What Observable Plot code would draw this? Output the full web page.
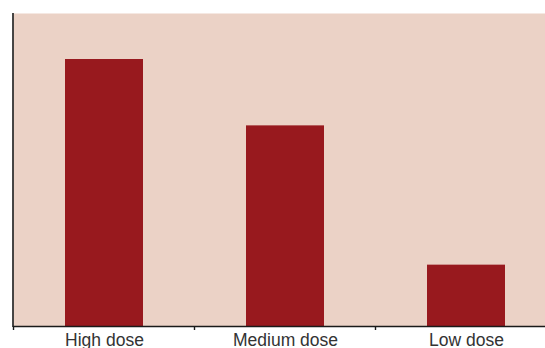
<!DOCTYPE html>
<html>
<head>
<meta charset="utf-8">
<script src="https://cdn.jsdelivr.net/npm/d3@7"></script>
<script src="https://cdn.jsdelivr.net/npm/@observablehq/plot@0.6"></script>
<style>
  html, body { margin: 0; padding: 0; background: #fff; }
  #chart svg { overflow: hidden; display: block; }
</style>
</head>
<body>
<div id="chart"></div>
<script>
const categories = ["High dose", "Medium dose", "Low dose"];
const values = [85.3, 64.1, 19.6];
const yMax = 100;

const data = categories.map((c, i) => ({category: c, value: values[i]}));

const W = 545, H = 348;
const mL = 13, mT = 13, mB = 22;
const step = 181.5;

// Axis lines + boundary ticks drawn from the scales
function axes(index, scales, vals, dims) {
  const g = d3.create("svg:g").attr("stroke", "#1a1a1a");
  const y0 = scales.y(0);
  g.append("line").attr("x1", dims.marginLeft).attr("x2", dims.marginLeft)
    .attr("y1", dims.marginTop).attr("y2", y0 + 1).attr("stroke-width", 1.6);
  g.append("line").attr("x1", dims.marginLeft).attr("x2", dims.width)
    .attr("y1", y0 + 0.5).attr("y2", y0 + 0.5).attr("stroke-width", 1.6);
  const bw = scales.x.bandwidth(), st = scales.x.step();
  for (const c of categories) {
    const xb = scales.x(c) + bw / 2 - st / 2;
    g.append("line").attr("x1", xb).attr("x2", xb)
      .attr("y1", y0).attr("y2", y0 + 4).attr("stroke-width", 1.4);
  }
  return g.node();
}

const chart = Plot.plot({
  width: W,
  height: H,
  marginLeft: mL,
  marginRight: 0,
  marginTop: mT,
  marginBottom: mB,
  style: {fontFamily: "Liberation Sans, Arial, sans-serif", fontSize: "17.5px", color: "#333", background: "#fff"},
  x: {domain: categories, range: [mL - 0.6, mL - 0.6 + step * 3], paddingInner: 0.57, paddingOuter: 0.285, label: null},
  y: {domain: [0, yMax], label: null},
  marks: [
    Plot.frame({fill: "#ebd2c6", stroke: "none"}),
    Plot.barY(data, {x: "category", y: "value", fill: "#98191e"}),
    Plot.axisX({tickSize: 0, tickPadding: 7, fontSize: 17.5, fill: "#333", label: null}),
    Plot.axisY({ticks: [], label: null}),
    axes
  ]
});
document.getElementById("chart").append(chart);
</script>
</body>
</html>
